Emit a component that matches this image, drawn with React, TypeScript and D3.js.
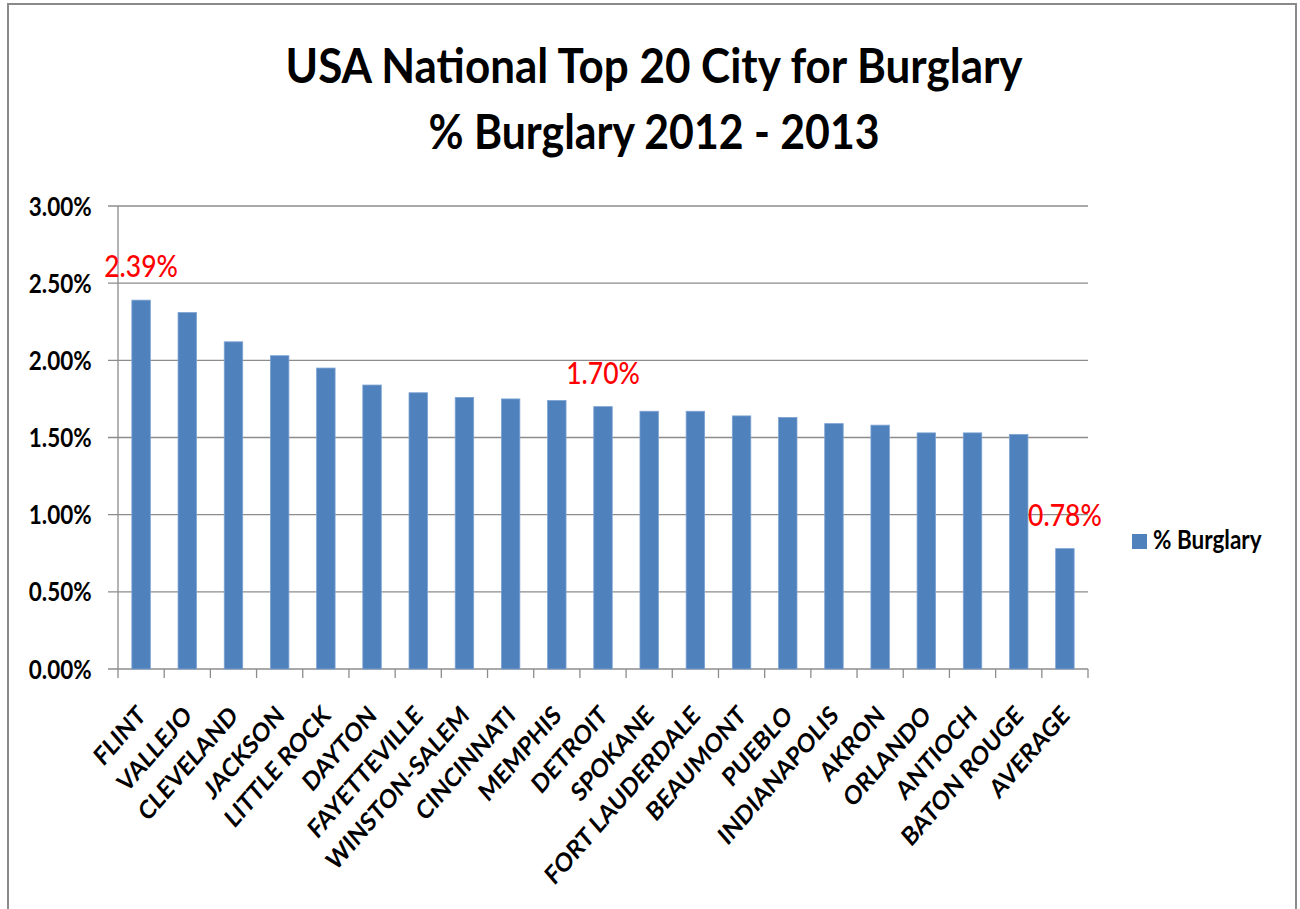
import React from "react";
import * as d3 from "d3";

const categories = [
  "FLINT", "VALLEJO", "CLEVELAND", "JACKSON", "LITTLE ROCK", "DAYTON", "FAYETTEVILLE",
  "WINSTON-SALEM", "CINCINNATI", "MEMPHIS", "DETROIT", "SPOKANE", "FORT LAUDERDALE",
  "BEAUMONT", "PUEBLO", "INDIANAPOLIS", "AKRON", "ORLANDO", "ANTIOCH", "BATON ROUGE", "AVERAGE",
];
const burglaryPct = [
  2.39, 2.31, 2.12, 2.03, 1.95, 1.84, 1.79, 1.76, 1.75, 1.74, 1.70, 1.67, 1.67,
  1.64, 1.63, 1.59, 1.58, 1.53, 1.53, 1.52, 0.78,
];
const yTicks = [0, 0.5, 1, 1.5, 2, 2.5, 3];
const labeledCategories = ["FLINT", "DETROIT", "AVERAGE"];
const titleLines = ["USA National Top 20 City for Burglary", "% Burglary 2012 - 2013"];
const seriesName = "% Burglary";

const SY = 1.15;
const FONT = "Lato, 'Open Sans', 'Noto Sans', sans-serif";
const BAR = "#4F81BD";
const GRID = "#8c8c8c";

function T({ x, y, children, ...rest }: any) {
  return (
    <g transform={`translate(${x},${y}) scale(1,${SY})`}>
      <text fontFamily={FONT} {...rest}>{children}</text>
    </g>
  );
}

export default function App() {
  const W = 1300, H = 909;
  const left = 118, right = 1088, top = 206, bottom = 669;
  const x = d3.scaleBand<string>().domain(categories).range([left, right]).padding(0);
  const y = d3.scaleLinear().domain([0, 3]).range([bottom, top]);
  const bw = x.bandwidth();
  const barW = bw * 0.4;
  const fmt = (v: number) => d3.format(".2f")(v) + "%";
  const boundaries = d3.range(categories.length + 1).map((i) => left + i * bw);

  return (
    <div style={{ position: "absolute", left: 0, top: 0 }}>
      <svg width={W} height={H} style={{ display: "block", background: "#fff" }}>
        <rect x={8} y={4} width={1288} height={920} fill="#fff" stroke="#8a8a8a" strokeWidth={2} />

        {titleLines.map((t, i) => (
          <T key={t} x={654} y={i === 0 ? 83.3 : 149} textAnchor="middle" fontSize={42} fontWeight={700}
             fill="#000" textLength={i === 0 ? 737 : 451} lengthAdjust="spacingAndGlyphs">{t}</T>
        ))}

        {/* gridlines */}
        {yTicks.map((v) => (
          <line key={v} x1={108} x2={right} y1={y(v)} y2={y(v)} stroke={GRID} strokeWidth={1.3} />
        ))}
        {/* y axis */}
        <line x1={left} x2={left} y1={top} y2={bottom} stroke={GRID} strokeWidth={1.3} />
        {yTicks.map((v) => (
          <T key={"yl" + v} x={91.7} y={y(v) + 9.5} textAnchor="end" fontSize={22.5} fontWeight={700} fill="#000">
            {fmt(v)}
          </T>
        ))}
        {/* x ticks */}
        {boundaries.map((b, i) => (
          <line key={"xt" + i} x1={b} x2={b} y1={bottom} y2={bottom + 9} stroke={GRID} strokeWidth={1.3} />
        ))}

        {/* bars */}
        {categories.map((c, i) => (
          <rect key={c} x={(x(c) as number) + (bw - barW) / 2} y={y(burglaryPct[i])} width={barW}
                height={bottom - y(burglaryPct[i])} fill={BAR} stroke="#7ea3d3" strokeWidth={0.8} />
        ))}

        {/* data labels */}
        {categories.map((c, i) =>
          labeledCategories.includes(c) ? (
            <T key={"dl" + c} x={(x(c) as number) + bw / 2} y={y(burglaryPct[i]) - 23} textAnchor="middle"
               fontSize={26.5} fontWeight={500} fill="#ff0000">{fmt(burglaryPct[i])}</T>
          ) : null
        )}

        {/* category labels */}
        {categories.map((c) => (
          <g key={"cl" + c} transform={`translate(${(x(c) as number) + bw / 2 + 6},${bottom + 48}) scale(1,${SY}) rotate(-45)`}>
            <text fontFamily={FONT} fontSize={22.5} fontWeight={700} textAnchor="end" fill="#000">{c}</text>
          </g>
        ))}

        {/* legend */}
        <rect x={1132} y={534} width={15} height={15} fill={BAR} />
        <T x={1153} y={549.3} fontSize={22.5} fontWeight={700} fill="#000">{seriesName}</T>
      </svg>
    </div>
  );
}
